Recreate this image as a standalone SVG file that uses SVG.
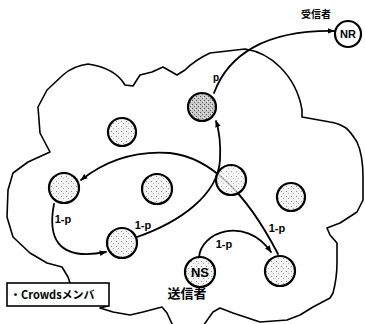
<svg xmlns="http://www.w3.org/2000/svg" width="365" height="324" viewBox="0 0 365 324">
<style>
.cloud{fill:none;stroke:#000;stroke-width:1.6;stroke-linejoin:round;stroke-linecap:round}
.node{stroke:#000;stroke-width:2.2}
.light{fill:url(#stip)}
.dark{fill:url(#stipDark)}
.conn{fill:none;stroke:#000;stroke-width:1.8;stroke-linecap:round}
.arr{marker-end:url(#ah)}
.lbl{font-family:"Liberation Sans","Noto Sans CJK JP",sans-serif;font-weight:bold;fill:#000}
.jp{font-family:"Noto Sans CJK JP","Liberation Sans",sans-serif;font-weight:bold;fill:#000}
</style>
<defs>
<pattern id="stip" width="5" height="5" patternUnits="userSpaceOnUse">
<rect width="5" height="5" fill="#f4f4f4"/>
<rect x="1" y="1" width="1" height="1" fill="#888"/>
<rect x="3" y="3" width="1" height="1" fill="#aaa"/>
</pattern>
<pattern id="stipDark" width="4" height="4" patternUnits="userSpaceOnUse">
<rect width="4" height="4" fill="#c8c8c8"/>
<rect x="0" y="0" width="1" height="1" fill="#555"/>
<rect x="2" y="2" width="1" height="1" fill="#666"/>
<rect x="3" y="1" width="1" height="1" fill="#eee"/>
</pattern>
<marker id="ah" viewBox="0 0 10 10" refX="9" refY="5" markerWidth="7" markerHeight="7" markerUnits="userSpaceOnUse" orient="auto">
<path d="M0,1 L10,5 L0,9 z" fill="#000"/>
</marker>
</defs>

<path id="cloud" class="cloud" d="M108,306 L100,308 L113,312 L130,315 L143,312 L162,307 L167,313 L173,326 L203,326 L213,312 L220,308 L233,313 L260,322 L287,320 L300,315 L313,307 L330,298 L333,293 Q337,278 337,263 L337,243 L330,235 L327,228 L340,223 L357,212 L363,200 L363,177 Q363,155 357,142 Q350,131 346,128 Q338,123 330,122 L302,117 L302,110 Q298,85 280,67 Q265,52 245,49 L210,53 Q195,60 185,70 L177,75 L163,67 L152,72 L140,75 L133,86 L125,85 Q115,68 88,64 Q73,66 63,75 L47,90 L38,107 L40,133 L50,152 L28,162 L13,173 L8,190 L7,217 L13,237 L30,253 L47,263 L62,267 L68,277 L70,283"/>

<g id="connectors">
<path class="conn arr" d="M214,93 C228,55 265,30 334,31"/>
<path class="conn arr" d="M137,237 C180,222 218,195 220,160 C221,140 219,130 216,121"/>
<path class="conn arr" d="M278,254 C250,200 215,158 170,153 C130,150 100,165 81,180"/>
<path class="conn arr" d="M54,204 C48,235 55,262 106,252"/>
<path class="conn arr" d="M199,258 C200,232 245,215 271,252"/>
</g>

<g id="label-box">
<rect x="7" y="283" width="102" height="23" fill="#fff" stroke="#000" stroke-width="1.6"/>
<text class="jp" x="10" y="299" font-size="11">・Crowdsメンバ</text>
</g>

<g id="node-NR">
<circle cx="348" cy="34" r="13" fill="#fff" class="node"/>
<text class="lbl" x="348" y="38" font-size="11" text-anchor="middle">NR</text>
</g>
<g id="node-A"><circle cx="202" cy="107" r="14" class="node dark"/></g>
<g id="node-B"><circle cx="122" cy="132" r="14" class="node light"/></g>
<g id="node-L"><circle cx="64" cy="188" r="15" class="node light"/></g>
<g id="node-M"><circle cx="157" cy="189" r="15" class="node light"/></g>
<g id="node-C"><circle cx="231" cy="180" r="15" class="node light" fill-opacity="0.8"/></g>
<g id="node-R"><circle cx="291" cy="197" r="14" class="node light"/></g>
<g id="node-D"><circle cx="122" cy="243" r="15" class="node light"/></g>
<g id="node-NS">
<circle cx="200" cy="272" r="15" class="node light"/>
<text class="lbl" x="200" y="277" font-size="13" text-anchor="middle">NS</text>
</g>
<g id="node-BR"><circle cx="280" cy="271" r="15" class="node light"/></g>

<g id="labels">
<text class="jp" x="316" y="18" font-size="10" text-anchor="middle">受信者</text>
<text class="jp" x="187" y="298" font-size="13" text-anchor="middle">送信者</text>
<text class="lbl" x="216" y="81" font-size="10" text-anchor="middle">p</text>
<text class="lbl" x="63" y="223" font-size="11" text-anchor="middle">1-p</text>
<text class="lbl" x="143" y="229" font-size="11" text-anchor="middle">1-p</text>
<text class="lbl" x="224" y="248" font-size="11" text-anchor="middle">1-p</text>
<text class="lbl" x="277" y="232" font-size="11" text-anchor="middle">1-p</text>
</g>
</svg>
